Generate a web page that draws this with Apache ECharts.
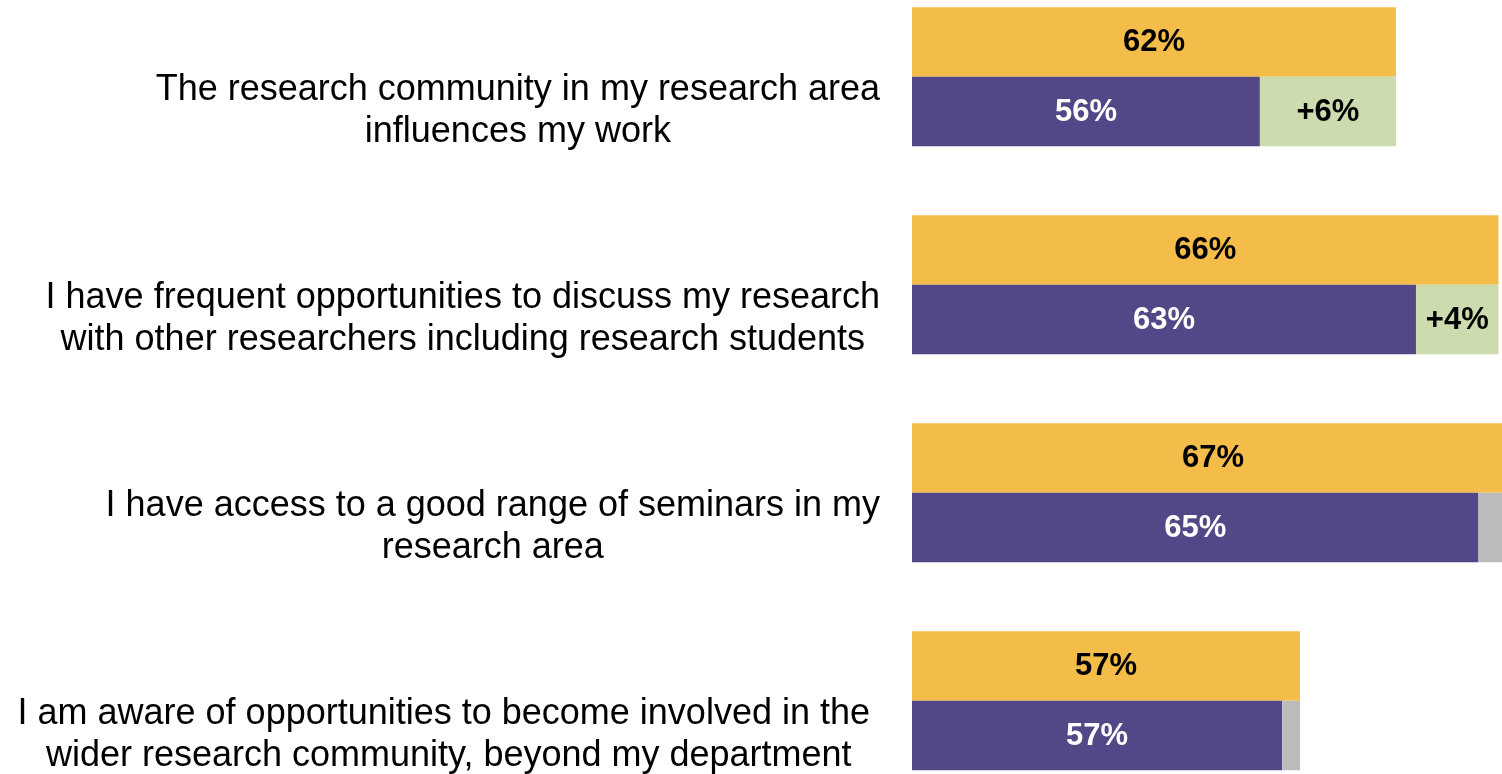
<!DOCTYPE html>
<html>
<head>
<meta charset="utf-8">
<script src="https://cdn.jsdelivr.net/npm/echarts@6/dist/echarts.min.js"></script>
<style>
  html, body { margin: 0; padding: 0; background: #ffffff; }
  #chart { width: 1502px; height: 774px; }
</style>
</head>
<body>
<div id="chart"></div>
<script>
// Survey statements (one row each, line breaks as wrapped in the layout)
const statements = [
  'The research community in my research area\ninfluences my work',
  'I have frequent opportunities to discuss my research\nwith other researchers including research students',
  'I have access to a good range of seminars in my\nresearch area',
  'I am aware of opportunities to become involved in the \nwider research community, beyond my department'
];

// Share agreeing (%): upper bar of each pair
const comparisonShare = [61.7, 66.3, 67.0, 57.4];
// Share agreeing (%): lower bar of each pair
const baselineShare = [55.6, 62.6, 65.4, 56.6];
// Whether the gap between the two is flagged (green + label) or not (grey)
const gapFlagged = [true, true, false, false];

const gapShare = comparisonShare.map((c, i) => Math.round((c - baselineShare[i]) * 10) / 10);

const FONT = '"Liberation Sans", Arial, Helvetica, sans-serif';
const COLORS = {
  comparison: '#F4BC48',
  baseline: '#544787',
  gapFlagged: '#CCDCAE',
  gapPlain: '#BBBBBB'
};

const barLabel = (color, fmt) => ({
  show: true,
  position: 'inside',
  offset: [0, 1],
  color: color,
  fontFamily: FONT,
  fontWeight: 'bold',
  fontSize: 31,
  formatter: fmt
});

const chart = echarts.init(document.getElementById('chart'), null, { renderer: 'canvas' });

chart.setOption({
  animation: false,
  backgroundColor: '#ffffff',
  // The value range runs past the right edge; the plot is allowed to extend outside the canvas
  grid: { left: 912, width: 669, top: -27.3, height: 832, outerBoundsMode: 'none', containLabel: false },
  xAxis: { type: 'value', min: 40, max: 70, show: false },
  yAxis: {
    type: 'category',
    inverse: true,
    data: statements,
    axisLine: { show: false },
    axisTick: { show: false },
    splitLine: { show: false },
    axisLabel: {
      margin: 32,
      align: 'right',
      verticalAlign: 'middle',
      // statement text sits level with the lower bar of each pair
      padding: [69, 0, 0, 0],
      formatter: (value) => value.split('\n').map(line => '{c|' + line + '}').join('\n'),
      rich: {
        c: {
          align: 'center',
          fontFamily: FONT,
          fontSize: 36,
          lineHeight: 42,
          color: '#000000'
        }
      }
    }
  },
  series: [
    {
      name: 'comparison',
      type: 'bar',
      data: comparisonShare,
      barWidth: 69.5,
      barGap: '0%',
      itemStyle: { color: COLORS.comparison },
      label: barLabel('#000000', p => Math.round(p.value) + '%')
    },
    {
      name: 'baseline',
      type: 'bar',
      stack: 'pair',
      data: baselineShare,
      barWidth: 69.5,
      barGap: '0%',
      itemStyle: { color: COLORS.baseline },
      label: barLabel('#ffffff', p => Math.round(p.value) + '%')
    },
    {
      name: 'gap',
      type: 'bar',
      stack: 'pair',
      barWidth: 69.5,
      barGap: '0%',
      data: gapShare.map((g, i) => ({
        value: g,
        itemStyle: { color: gapFlagged[i] ? COLORS.gapFlagged : COLORS.gapPlain },
        label: { show: gapFlagged[i] }
      })),
      label: barLabel('#000000', p => '+' + Math.round(p.value) + '%')
    }
  ]
});
</script>
</body>
</html>
